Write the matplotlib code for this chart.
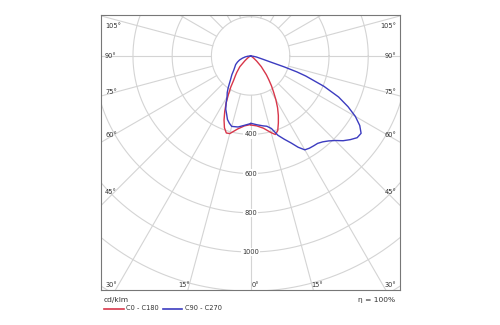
#polar light distribution diagram, C-planes in cd/klm
import numpy as np
import matplotlib
matplotlib.use("Agg")
import matplotlib.pyplot as plt
from matplotlib.lines import Line2D

# gamma angles (deg from nadir) and intensities (cd/klm)
gamma_c0 = [0, 5, 10, 15, 17.5, 20, 22.5, 25, 27.5, 30, 32.5, 35, 37.5, 40, 45, 50, 55, 60, 70, 80, 90]
c0 = [352, 358, 374, 405, 420, 405, 370, 335, 298, 258, 218, 185, 152, 125, 77, 40, 18, 8, 3, 1, 0]
c180 = [350, 358, 378, 410, 412, 390, 354, 312, 270, 226, 188, 150, 128, 110, 78, 38, 18, 8, 3, 1, 0]

gamma_c90 = [0, 5, 10, 13, 16, 19, 22, 25, 27.5, 30, 32.5, 35, 37.5, 40, 42.5, 45, 47.5, 50, 52.5,
             55, 57.5, 60, 62.5, 65, 67.5, 70, 71, 72, 73, 75, 80, 85, 90]
c90 = [343, 352, 362, 368, 385, 428, 458, 490, 525, 553, 558, 560, 562, 572, 588, 610, 640, 664, 685,
       688, 660, 617, 560, 495, 405, 300, 250, 180, 110, 65, 30, 10, 0]
gamma_c270 = [0, 5, 10, 15, 17.5, 20, 22.5, 25, 27.5, 30, 32.5, 35, 37.5, 40, 45, 50, 55, 60, 65, 70, 75, 80, 85, 90]
c270 = [345, 355, 368, 372, 360, 345, 320, 300, 270, 240, 222, 200, 178, 160, 135, 112, 98, 88, 74, 60, 43, 28, 14, 0]

rings = [200, 400, 600, 800, 1000, 1200, 1400]
ring_labels = [400, 600, 800, 1000]
side_angles = [105, 90, 75, 60, 45]
bottom_angles = [30, 15, 0, 15, 30]

grid_c = "#d4d4d4"
text_c = "#333333"
red = "#d8364a"
blue = "#3c3cc0"

fig = plt.figure(figsize=(5, 3.25), dpi=100)
ax = fig.add_axes([101/500, 1-290/325, 299/500, 275/325])
ax.set_xlim(-763, 762)
ax.set_ylim(-1194, 209)
ax.set_xticks([]), ax.set_yticks([])
for s in ax.spines.values():
    s.set_color("#777777")
    s.set_linewidth(0.8)

t = np.linspace(0, 2*np.pi, 400)
for r in rings:
    ax.plot(r*np.cos(t), r*np.sin(t), color=grid_c, lw=0.8, zorder=1)
for a in range(0, 360, 15):
    ar = np.radians(a)
    ax.plot([200*np.sin(ar), 2000*np.sin(ar)], [-200*np.cos(ar), -2000*np.cos(ar)],
            color=grid_c, lw=0.8, zorder=1)

for r in ring_labels:
    ax.text(0, -r, str(r), ha="center", va="center", fontsize=4.8, color=text_c, zorder=2,
            bbox=dict(fc="white", ec="none", pad=0.8))

def curve(g_left, i_left, g_right, i_right):
    th = np.radians(np.concatenate([-np.array(g_left)[::-1], np.array(g_right)]))
    r = np.concatenate([np.array(i_left)[::-1], np.array(i_right)])
    return r*np.sin(th), -r*np.cos(th)

x, y = curve(gamma_c0, c180, gamma_c0, c0)
ax.plot(x, y, color=red, lw=1.0, zorder=3)
x, y = curve(gamma_c270, c270, gamma_c90, c90)
ax.plot(x, y, color=blue, lw=1.0, zorder=3)

# angle labels round the frame
for a in side_angles:
    yy = -694/np.tan(np.radians(a)) if a != 90 else 0
    yy = min(yy, 153)
    ax.text(-742, yy, f"{a}°", ha="left", va="center", fontsize=4.8, color=text_c, zorder=4)
    ax.text(742, yy, f"{a}°", ha="right", va="center", fontsize=4.8, color=text_c, zorder=4)
for i, a in enumerate(bottom_angles):
    sgn = -1 if i < 2 else 1
    if a == 30:
        ax.text(742*sgn, -1168, f"{a}°", ha="left" if sgn < 0 else "right", va="center",
                fontsize=4.8, color=text_c, zorder=4)
    else:
        xx = sgn*(1168*np.tan(np.radians(a)) + 25)
        ax.text(xx, -1168, f"{a}°", ha="center", va="center", fontsize=4.8, color=text_c, zorder=4)

fig.text(104/500, 1-300/325, "cd/klm", ha="left", va="center", fontsize=5.4, color=text_c)
fig.text(395/500, 1-300/325, "η = 100%", ha="right", va="center", fontsize=5.4, color=text_c)
ly = 1-308.5/325
fig.add_artist(Line2D([104/500, 124/500], [ly, ly], color=red, lw=1.2))
fig.text(126/500, ly, "C0 - C180", ha="left", va="center", fontsize=4.8, color=text_c)
fig.add_artist(Line2D([163/500, 182/500], [ly, ly], color=blue, lw=1.2))
fig.text(185/500, ly, "C90 - C270", ha="left", va="center", fontsize=4.8, color=text_c)

fig.savefig("out.png", dpi=100, facecolor="white")
